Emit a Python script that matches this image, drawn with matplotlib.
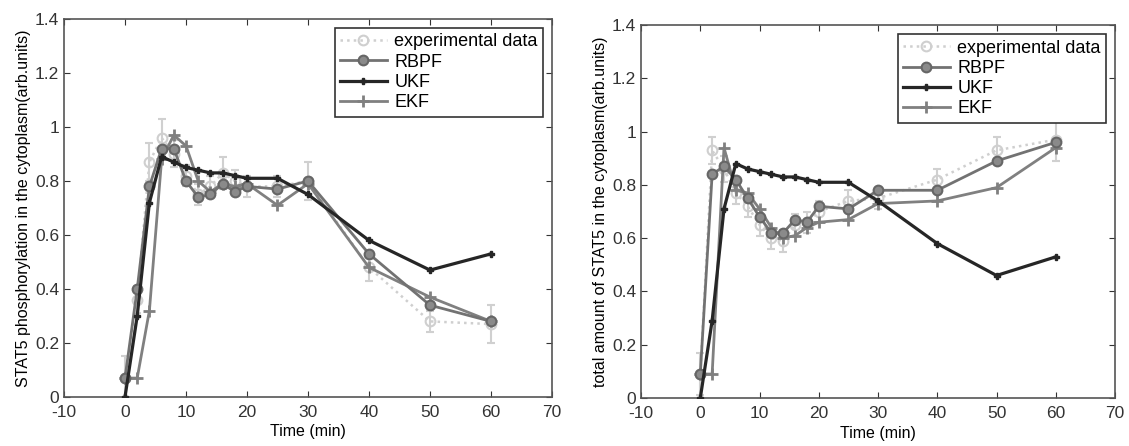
import matplotlib
matplotlib.use('Agg')
import matplotlib.pyplot as plt

plt.rcParams['font.family'] = ['Liberation Sans', 'DejaVu Sans']
plt.rcParams['axes.unicode_minus'] = False

# time points (min)
t = [0, 2, 4, 6, 8, 10, 12, 14, 16, 18, 20, 25, 30, 40, 50, 60]

# left panel: STAT5 phosphorylation
exp1 = [0.07, 0.36, 0.87, 0.96, 0.90, 0.82, 0.75, 0.78, 0.83, 0.80, 0.78, 0.78, 0.80, 0.48, 0.28, 0.27]
err1 = [0.08, 0.05, 0.07, 0.07, 0.05, 0.04, 0.04, 0.04, 0.06, 0.04, 0.04, 0.04, 0.07, 0.05, 0.04, 0.07]
rbpf1 = [0.07, 0.40, 0.78, 0.92, 0.92, 0.80, 0.74, 0.75, 0.79, 0.76, 0.78, 0.77, 0.80, 0.53, 0.34, 0.28]
ukf1 = [0.0, 0.30, 0.72, 0.89, 0.87, 0.85, 0.84, 0.83, 0.83, 0.82, 0.81, 0.81, 0.75, 0.58, 0.47, 0.53]
ekf1 = [0.07, 0.07, 0.32, 0.88, 0.97, 0.93, 0.80, 0.76, 0.79, 0.78, 0.79, 0.71, 0.79, 0.48, 0.37, 0.28]

# right panel: total STAT5
exp2 = [0.09, 0.93, 0.86, 0.77, 0.72, 0.65, 0.60, 0.59, 0.65, 0.66, 0.70, 0.74, 0.75, 0.82, 0.93, 0.97]
err2 = [0.08, 0.05, 0.05, 0.04, 0.04, 0.04, 0.04, 0.04, 0.04, 0.04, 0.04, 0.04, 0.04, 0.04, 0.05, 0.08]
rbpf2 = [0.09, 0.84, 0.87, 0.82, 0.75, 0.68, 0.62, 0.62, 0.67, 0.66, 0.72, 0.71, 0.78, 0.78, 0.89, 0.96]
ukf2 = [0.0, 0.29, 0.71, 0.88, 0.86, 0.85, 0.84, 0.83, 0.83, 0.82, 0.81, 0.81, 0.74, 0.58, 0.46, 0.53]
ekf2 = [0.09, 0.09, 0.94, 0.78, 0.77, 0.71, 0.64, 0.60, 0.61, 0.64, 0.66, 0.67, 0.73, 0.74, 0.79, 0.94]

xticks = [-10, 0, 10, 20, 30, 40, 50, 60, 70]
yticks = [0, 0.2, 0.4, 0.6, 0.8, 1.0, 1.2, 1.4]
yticklabels = ['0', '0.2', '0.4', '0.6', '0.8', '1', '1.2', '1.4']


def draw_panel(ax, exp, err, rbpf, ukf, ekf, ylabel):
    # error bars only, the line itself goes through plot() so the legend shows it plainly
    ax.errorbar(t, exp, yerr=err, fmt='none', ecolor='#d0d0d0', capsize=3,
                elinewidth=1.5, capthick=1.5, zorder=1)
    ax.plot(t, exp, color='#cfcfcf', ls=':', lw=1.8, marker='o', ms=7,
            mfc='none', mec='#cfcfcf', mew=1.5, label='experimental data', zorder=1)
    ax.plot(t, rbpf, color='#727272', lw=2, marker='o', ms=7, mfc='#8a8a8a',
            mec='#666666', mew=1.5, label='RBPF', zorder=3)
    ax.plot(t, ukf, color='#262626', lw=2.3, marker='P', ms=5, mfc='#262626',
            mec='#262626', label='UKF', zorder=4)
    ax.plot(t, ekf, color='#808080', lw=2, marker='+', ms=8, mew=2,
            mec='#808080', label='EKF', zorder=2)
    ax.set_xlim(-10, 70)
    ax.set_ylim(0, 1.4)
    ax.set_xticks(xticks)
    ax.set_yticks(yticks)
    ax.set_yticklabels(yticklabels)
    ax.tick_params(direction='in', top=True, right=True, labelsize=12.5, colors='#333333', length=4)
    ax.tick_params(axis='x', pad=6)
    for s in ax.spines.values():
        s.set_color('#555555')
        s.set_linewidth(1.2)
    ax.set_xlabel('Time (min)', fontsize=11.5, labelpad=3)
    ax.set_ylabel(ylabel, fontsize=11.5, labelpad=3)
    leg = ax.legend(loc='upper right', fontsize=13, handlelength=2.6, handletextpad=0.4,
                    borderpad=0.3, labelspacing=0.18, fancybox=False, framealpha=1,
                    borderaxespad=0.5)
    leg.get_frame().set_edgecolor('#333333')
    leg.get_frame().set_linewidth(1.2)


fig = plt.figure(figsize=(11.29, 4.46), dpi=100)
ax1 = fig.add_axes([0.0567, 0.1099, 0.4322, 0.8475])
ax2 = fig.add_axes([0.5678, 0.1076, 0.4198, 0.836])

draw_panel(ax1, exp1, err1, rbpf1, ukf1, ekf1, 'STAT5 phosphorylation in the cytoplasm(arb.units)')
draw_panel(ax2, exp2, err2, rbpf2, ukf2, ekf2, 'total amount of STAT5 in the cytoplasm(arb.units)')

fig.savefig('out.png', dpi=100)
